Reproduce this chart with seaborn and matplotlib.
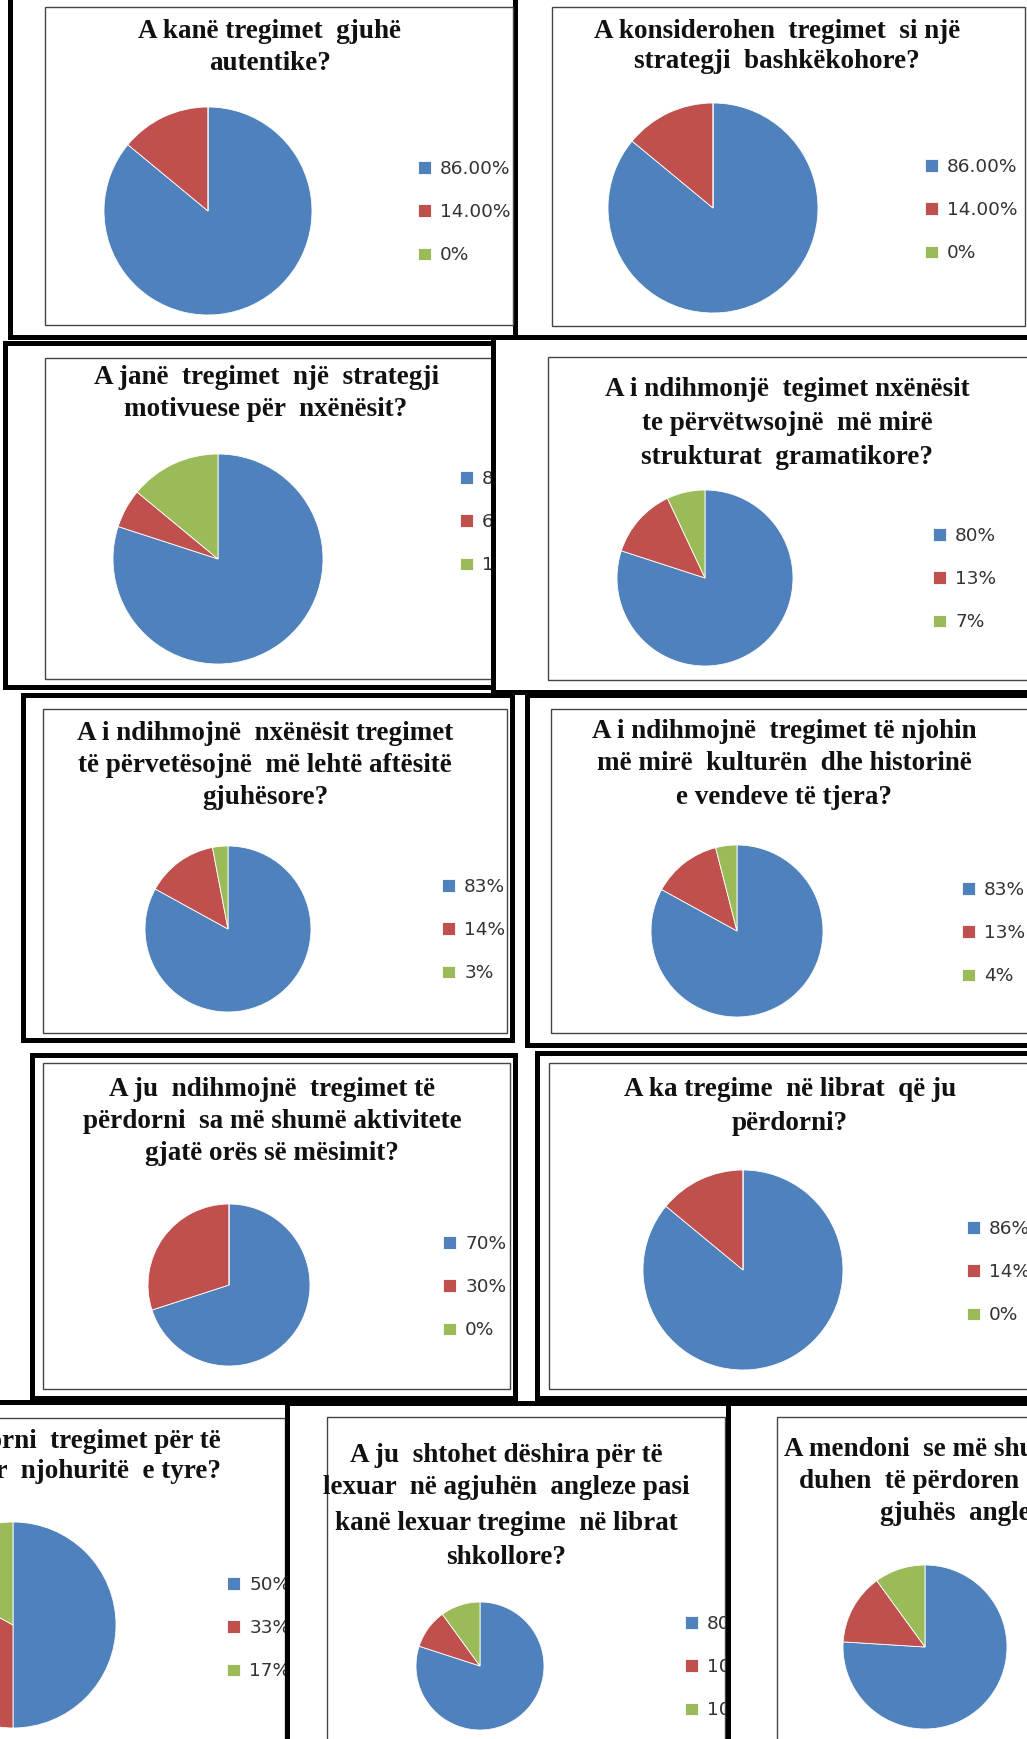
import matplotlib
matplotlib.use("Agg")
import matplotlib.pyplot as plt
from matplotlib.patches import Rectangle
import seaborn as sns

# survey answers (share of respondents, %)
titles = [
    ["A kanë tregimet  gjuhë", "autentike?"],
    ["A konsiderohen  tregimet  si një", "strategji  bashkëkohore?"],
    ["A janë  tregimet  një  strategji", "motivuese për  nxënësit?"],
    ["A i ndihmonjë  tegimet nxënësit", "te përvëtwsojnë  më mirë", "strukturat  gramatikore?"],
    ["A i ndihmojnë  nxënësit tregimet", "të përvetësojnë  më lehtë aftësitë", "gjuhësore?"],
    ["A i ndihmojnë  tregimet të njohin", "më mirë  kulturën  dhe historinë", "e vendeve të tjera?"],
    ["A ju  ndihmojnë  tregimet të", "përdorni  sa më shumë aktivitete", "gjatë orës së mësimit?"],
    ["A ka tregime  në librat  që ju", "përdorni?"],
    ["A i përdorni  tregimet për të", "zgjeruar  njohuritë  e tyre?"],
    ["A ju  shtohet dëshira për të", "lexuar  në agjuhën  angleze pasi",
     "kanë lexuar tregime  në librat", "shkollore?"],
    ["A mendoni  se më shumë tregime", "duhen  të përdoren  në librat e", "gjuhës  angleze?"],
]
values = [
    [86, 14, 0], [86, 14, 0], [80, 6, 14], [80, 13, 7], [83, 14, 3], [83, 13, 4],
    [70, 30, 0], [86, 14, 0], [50, 33, 17], [80, 10, 10], [76, 14, 10],
]
labels = [
    ["86.00%", "14.00%", "0%"], ["86.00%", "14.00%", "0%"], ["80%", "6%", "14%"],
    ["80%", "13%", "7%"], ["83%", "14%", "3%"], ["83%", "13%", "4%"],
    ["70%", "30%", "0%"], ["86%", "14%", "0%"], ["50%", "33%", "17%"],
    ["80%", "10%", "10%"], ["76%", "14%", "10%"],
]

# panel geometry in image pixels (y down): box, thick border, inner frame, pie, legend, title
layout = [
    dict(box=(10, -10, 515, 337), border=True, frame=(45, 7, 513, 325), pie=(208, 211, 104), leg=(418, 212), tx=270, ty=[32, 63]),
    dict(box=(518, -10, 1035, 333), border=False, frame=(552, 7, 1025, 326), pie=(713, 208, 105), leg=(925, 210), tx=777, ty=[32, 62]),
    dict(box=(5, 343, 520, 687), border=True, frame=(45, 358, 540, 679), pie=(218, 559, 105), leg=(460, 522), tx=266, ty=[378, 410]),
    dict(box=(493, 337, 1035, 692), border=True, frame=(548, 357, 1040, 680), pie=(705, 578, 88), leg=(933, 579), tx=787, ty=[390, 423, 457]),
    dict(box=(23, 695, 512, 1040), border=True, frame=(43, 709, 507, 1033), pie=(228, 929, 83), leg=(442, 930), tx=265, ty=[733, 765, 797]),
    dict(box=(527, 695, 1035, 1045), border=True, frame=(551, 709, 1040, 1033), pie=(737, 931, 86), leg=(962, 933), tx=784, ty=[732, 763, 797]),
    dict(box=(32, 1055, 515, 1398), border=True, frame=(43, 1063, 510, 1389), pie=(229, 1285, 81), leg=(443, 1287), tx=272, ty=[1090, 1122, 1153]),
    dict(box=(537, 1053, 1035, 1398), border=True, frame=(549, 1063, 1040, 1389), pie=(743, 1270, 100), leg=(967, 1272), tx=790, ty=[1090, 1123]),
    dict(box=(-20, 1402, 290, 1760), border=True, frame=(-20, 1418, 285, 1770), pie=(13, 1625, 103), leg=(227, 1628), tx=221, ty=[1442, 1472], ha="right"),
    dict(box=(287, 1403, 735, 1760), border=True, frame=(327, 1417, 725, 1770), pie=(480, 1666, 64), leg=(685, 1667), tx=506, ty=[1455, 1488, 1523, 1557]),
    dict(box=(728, 1403, 1040, 1760), border=True, frame=(777, 1417, 1045, 1770), pie=(925, 1647, 82), leg=(1130, 1650), tx=974, ty=[1450, 1482, 1513]),
]

sns.set_theme(style="white")
colors = sns.color_palette(["#4F81BD", "#C0504D", "#9BBB59"])

W, H = 1027, 1739
fig = plt.figure(figsize=(W / 100, H / 100), dpi=100)
fig.patch.set_facecolor("white")


def Y(y):
    return H - y


for i, (lay, vals, labs, lines) in enumerate(zip(layout, values, labels, titles)):
    x0, y0, x1, y1 = lay["box"]
    ax = fig.add_axes([x0 / W, (H - y1) / H, (x1 - x0) / W, (y1 - y0) / H], zorder=i + 1)
    ax.axis("off")

    # white card + thick outer border
    ax.add_patch(Rectangle((x0, Y(y1)), x1 - x0, y1 - y0, facecolor="white",
                           edgecolor="black" if lay["border"] else "none",
                           linewidth=3.6, zorder=0, clip_on=False))
    # thin chart-area frame
    fx0, fy0, fx1, fy1 = lay["frame"]
    ax.add_patch(Rectangle((fx0, Y(fy1)), fx1 - fx0, fy1 - fy0, facecolor="none",
                           edgecolor="#444444", linewidth=1.0, zorder=1, clip_on=False))

    cx, cy, r = lay["pie"]
    wedges, _ = ax.pie(vals, colors=colors, center=(cx, Y(cy)), radius=r,
                       startangle=90, counterclock=False, frame=True,
                       wedgeprops=dict(edgecolor="white", linewidth=0.6))
    ax.set_aspect("auto")
    ax.set_xlim(x0, x1)
    ax.set_ylim(Y(y1), Y(y0))
    ax.axis("off")

    lx, ly = lay["leg"]
    leg = ax.legend(wedges, labs, loc="center left", bbox_to_anchor=(lx, Y(ly)),
                    bbox_transform=ax.transData, frameon=False, borderpad=0,
                    borderaxespad=0, fontsize=13.3, handlelength=0.7, handleheight=0.7,
                    handletextpad=0.5, labelspacing=1.38)
    for t in leg.get_texts():
        t.set_color("#333333")
        t.set_family("DejaVu Sans")

    for line, ty in zip(lines, lay["ty"]):
        ax.text(lay["tx"], Y(ty), line, ha=lay.get("ha", "center"), va="center",
                family="Liberation Serif", fontweight="bold", fontsize=19.5,
                color="#111111", clip_on=False)

fig.savefig("out.png", dpi=100, facecolor="white")
